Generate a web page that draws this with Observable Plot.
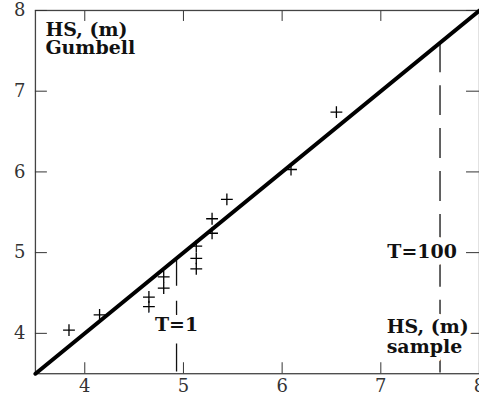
<!DOCTYPE html>
<html>
<head>
<meta charset="utf-8">
<script src="https://cdn.jsdelivr.net/npm/d3@7"></script>
<script src="https://cdn.jsdelivr.net/npm/@observablehq/plot@0.6"></script>
<style>
  html, body { margin: 0; padding: 0; overflow: hidden; background: #fff; }
  svg { display: block; }
</style>
</head>
<body>
<div id="chart"></div>
<script>
// Tick values
const xTicks = [4, 5, 6, 7, 8];
const yTicks = [4, 5, 6, 7, 8];

// Observed (sample) wave heights vs Gumbel-fitted heights, in metres
const sampleHS = [3.84, 4.15, 4.65, 4.65, 4.80, 4.80, 5.13, 5.13, 5.13, 5.29, 5.29, 5.44, 6.09, 6.55];
const gumbelHS = [4.04, 4.23, 4.33, 4.45, 4.56, 4.70, 4.80, 4.93, 5.08, 5.24, 5.42, 5.66, 6.03, 6.74];

// Reference 1:1 line
const fitX = [3.5, 8];
const fitY = [3.5, 8];

// Return periods
const returnLabels = ["T=1", "T=100"];
const returnHS = [4.93, 7.6];

const points = sampleHS.map((x, i) => ({x, y: gumbelHS[i]}));
const fitLine = fitX.map((x, i) => ({x, y: fitY[i]}));
const returns = returnLabels.map((label, i) => ({label, x: returnHS[i]}));

const serif = "DejaVu Serif";
const intFmt = d3.format("d");

const chart = Plot.plot({
  width: 480,
  height: 394,
  marginLeft: 35,
  marginRight: 0,
  marginTop: 10,
  marginBottom: 20,
  style: {fontFamily: serif, fontSize: "18px", color: "#222", background: "#fff"},
  x: {domain: [3.5, 8], label: null},
  y: {domain: [3.5, 8], label: null},
  marks: [
    Plot.frame({stroke: "#444", strokeWidth: 1.3}),
    Plot.axisX({anchor: "bottom", ticks: xTicks, tickFormat: intFmt, tickSize: -11, tickPadding: 17, stroke: "#333", fontSize: 18, fill: "#333"}),
    Plot.axisX({anchor: "top", ticks: xTicks, tickSize: -10, tickFormat: () => "", stroke: "#333"}),
    Plot.axisY({anchor: "left", ticks: yTicks, tickFormat: intFmt, tickSize: -12, tickPadding: 22, stroke: "#333", fontSize: 18, fill: "#333"}),
    Plot.axisY({anchor: "right", ticks: yTicks, tickSize: -14, tickFormat: () => "", stroke: "#333"}),
    // Return-period dashed verticals from the fitted line down to the axis
    Plot.ruleX([returns[0]], {x: "x", y1: "x", y2: 3.5, stroke: "#111", strokeWidth: 1.3, strokeDasharray: "28,15"}),
    Plot.ruleX([returns[1]], {x: "x", y1: "x", y2: 3.5, stroke: "#111", strokeWidth: 1.3, strokeDasharray: "30,13"}),
    Plot.line(fitLine, {x: "x", y: "y", stroke: "#000", strokeWidth: 4}),
    Plot.dot(points, {x: "x", y: "y", symbol: "plus", r: 3.9, stroke: "#000", strokeWidth: 1.3}),
    Plot.text([returns[0]], {x: "x", text: "label", frameAnchor: "bottom", dy: -43, fontWeight: "bold", fontSize: 19, fill: "#111", stroke: "white", strokeWidth: 14}),
    Plot.text([returns[1]], {x: "x", text: "label", frameAnchor: "bottom", dx: -18, dy: -116, fontWeight: "bold", fontSize: 19, fill: "#111", stroke: "white", strokeWidth: 14}),
    Plot.text(["HS, (m)\nGumbell"], {frameAnchor: "top-left", textAnchor: "start", lineAnchor: "top", dx: 10, dy: 13, lineHeight: 0.95, fontWeight: "bold", fontSize: 19, fill: "#111"}),
    Plot.text(["HS, (m)\nsample"], {frameAnchor: "bottom-right", textAnchor: "start", lineAnchor: "bottom", dx: -93, dy: -21, lineHeight: 1.05, fontWeight: "bold", fontSize: 19, fill: "#111", stroke: "white", strokeWidth: 10})
  ]
});
document.getElementById("chart").appendChild(chart);
</script>
</body>
</html>
